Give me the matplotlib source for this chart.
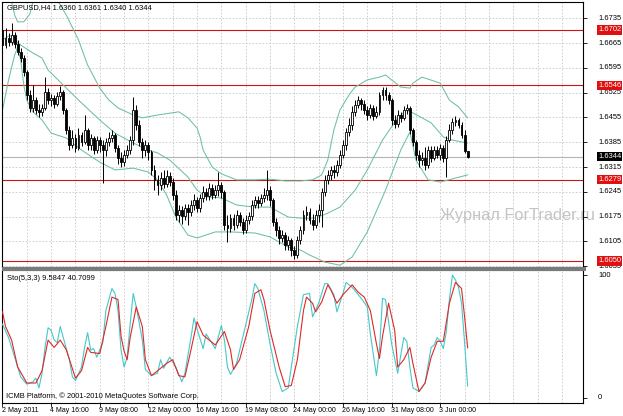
import matplotlib
matplotlib.use("Agg")
import matplotlib.pyplot as plt
from matplotlib.patches import Rectangle
import numpy as np

# GBPUSD H4, 2 May - 3 Jun 2011
first_open = 1.6702
closes = [
    1.6660, 1.6679, 1.6668, 1.6688, 1.6663, 1.6640, 1.6623, 1.6584, 1.6519, 1.6482,
    1.6504, 1.6476, 1.6471, 1.6482, 1.6527, 1.6504, 1.6510, 1.6493, 1.6516, 1.6527,
    1.6476, 1.6420, 1.6377, 1.6397, 1.6369, 1.6406, 1.6386, 1.6420, 1.6377, 1.6397,
    1.6363, 1.6391, 1.6377, 1.6363, 1.6386, 1.6397, 1.6406, 1.6369, 1.6341, 1.6329,
    1.6349, 1.6363, 1.6391, 1.6476, 1.6434, 1.6386, 1.6363, 1.6377, 1.6358, 1.6307,
    1.6279, 1.6265, 1.6284, 1.6267, 1.6290, 1.6273, 1.6236, 1.6180, 1.6194, 1.6177,
    1.6200, 1.6188, 1.6208, 1.6222, 1.6200, 1.6228, 1.6245, 1.6233, 1.6256, 1.6236,
    1.6250, 1.6265, 1.6245, 1.6152, 1.6143, 1.6171, 1.6152, 1.6180, 1.6160, 1.6137,
    1.6166, 1.6177, 1.6208, 1.6222, 1.6214, 1.6228, 1.6236, 1.6250, 1.6222, 1.6160,
    1.6137, 1.6115, 1.6123, 1.6095, 1.6109, 1.6081, 1.6067, 1.6109, 1.6137, 1.6180,
    1.6188, 1.6166, 1.6152, 1.6180, 1.6194, 1.6245, 1.6279, 1.6293, 1.6307, 1.6301,
    1.6321, 1.6349, 1.6377, 1.6414, 1.6434, 1.6471, 1.6490, 1.6504, 1.6493, 1.6476,
    1.6462, 1.6482, 1.6459, 1.6471, 1.6519, 1.6533, 1.6519, 1.6504, 1.6448, 1.6437,
    1.6462, 1.6454, 1.6476, 1.6482, 1.6420, 1.6386, 1.6349, 1.6335, 1.6341, 1.6321,
    1.6363, 1.6341, 1.6363, 1.6349, 1.6369, 1.6341, 1.6391, 1.6420, 1.6442, 1.6448,
    1.6434, 1.6406, 1.6360, 1.6344]
highs = [
    1.6730, 1.6708, 1.6694, 1.6722, 1.6696, 1.6674, 1.6651, 1.6631, 1.6589, 1.6533,
    1.6547, 1.6513, 1.6493, 1.6493, 1.6569, 1.6538, 1.6521, 1.6519, 1.6527, 1.6544,
    1.6533, 1.6482, 1.6431, 1.6420, 1.6408, 1.6425, 1.6414, 1.6462, 1.6425, 1.6408,
    1.6403, 1.6403, 1.6400, 1.6391, 1.6397, 1.6414, 1.6420, 1.6411, 1.6377, 1.6358,
    1.6363, 1.6377, 1.6403, 1.6513, 1.6490, 1.6448, 1.6397, 1.6391, 1.6386, 1.6363,
    1.6321, 1.6293, 1.6301, 1.6307, 1.6307, 1.6301, 1.6284, 1.6250, 1.6208, 1.6205,
    1.6211, 1.6211, 1.6222, 1.6239, 1.6231, 1.6239, 1.6262, 1.6256, 1.6270, 1.6267,
    1.6265, 1.6301, 1.6273, 1.6250, 1.6180, 1.6183, 1.6183, 1.6194, 1.6188, 1.6171,
    1.6180, 1.6188, 1.6222, 1.6233, 1.6233, 1.6239, 1.6256, 1.6307, 1.6262, 1.6228,
    1.6171, 1.6149, 1.6137, 1.6132, 1.6120, 1.6115, 1.6092, 1.6120, 1.6149, 1.6194,
    1.6205, 1.6200, 1.6183, 1.6194, 1.6211, 1.6256, 1.6293, 1.6307, 1.6318, 1.6321,
    1.6335, 1.6363, 1.6391, 1.6425, 1.6454, 1.6487, 1.6504, 1.6516, 1.6510, 1.6504,
    1.6487, 1.6493, 1.6490, 1.6487, 1.6527, 1.6541, 1.6541, 1.6527, 1.6510, 1.6462,
    1.6476, 1.6471, 1.6487, 1.6493, 1.6487, 1.6425, 1.6391, 1.6363, 1.6358, 1.6372,
    1.6375, 1.6375, 1.6375, 1.6375, 1.6380, 1.6377, 1.6403, 1.6437, 1.6454, 1.6459,
    1.6454, 1.6442, 1.6420, 1.6361]
lows = [
    1.6646, 1.6651, 1.6657, 1.6660, 1.6651, 1.6631, 1.6612, 1.6572, 1.6504, 1.6471,
    1.6471, 1.6465, 1.6457, 1.6459, 1.6476, 1.6493, 1.6487, 1.6482, 1.6487, 1.6504,
    1.6465, 1.6408, 1.6363, 1.6369, 1.6358, 1.6363, 1.6375, 1.6380, 1.6363, 1.6363,
    1.6352, 1.6355, 1.6358, 1.6270, 1.6346, 1.6375, 1.6386, 1.6358, 1.6324, 1.6315,
    1.6318, 1.6341, 1.6352, 1.6377, 1.6420, 1.6375, 1.6341, 1.6346, 1.6335, 1.6293,
    1.6250, 1.6236, 1.6250, 1.6256, 1.6259, 1.6262, 1.6222, 1.6166, 1.6160, 1.6154,
    1.6166, 1.6152, 1.6177, 1.6194, 1.6188, 1.6188, 1.6217, 1.6222, 1.6222, 1.6225,
    1.6228, 1.6233, 1.6228, 1.6137, 1.6103, 1.6132, 1.6137, 1.6143, 1.6149, 1.6126,
    1.6129, 1.6154, 1.6166, 1.6200, 1.6200, 1.6205, 1.6217, 1.6222, 1.6205, 1.6149,
    1.6120, 1.6098, 1.6103, 1.6081, 1.6081, 1.6064, 1.6056, 1.6058, 1.6098, 1.6126,
    1.6166, 1.6154, 1.6137, 1.6143, 1.6160, 1.6146, 1.6233, 1.6267, 1.6279, 1.6284,
    1.6290, 1.6312, 1.6341, 1.6363, 1.6403, 1.6420, 1.6459, 1.6482, 1.6476, 1.6465,
    1.6448, 1.6454, 1.6448, 1.6454, 1.6462, 1.6504, 1.6504, 1.6493, 1.6434, 1.6425,
    1.6428, 1.6442, 1.6448, 1.6465, 1.6408, 1.6375, 1.6335, 1.6315, 1.6321, 1.6307,
    1.6312, 1.6329, 1.6335, 1.6341, 1.6335, 1.6329, 1.6287, 1.6386, 1.6408, 1.6431,
    1.6425, 1.6397, 1.6355, 1.6340]

# Bollinger bands (20, 2) read at some bars
bb_up_bars = [0, 3, 4, 5, 7, 9, 10, 12, 15, 18, 21, 25, 28, 32, 35, 38, 43, 46, 51, 58,
              61, 64, 65, 66, 69, 72, 77, 83, 88, 93, 98, 102, 105, 107, 109, 111, 114, 116, 120, 124,
              126, 128, 131, 134, 135, 138, 144, 147, 150, 153]
bb_up = [1.6843, 1.6781, 1.6744, 1.6725, 1.6725, 1.6747, 1.6781, 1.6829, 1.6829, 1.6787,
         1.6744, 1.6674, 1.6603, 1.6538, 1.6504, 1.6482, 1.6462, 1.6454, 1.6462, 1.6471,
         1.6454, 1.6425, 1.6400, 1.6363, 1.6315, 1.6296, 1.6279, 1.6279, 1.6281, 1.6276,
         1.6276, 1.6279, 1.6293, 1.6335, 1.6420, 1.6476, 1.6519, 1.6541, 1.6561, 1.6569,
         1.6575, 1.6561, 1.6541, 1.6538, 1.6552, 1.6569, 1.6552, 1.6504, 1.6485, 1.6454]
bb_mid_bars = [0, 2, 4, 5, 10, 13, 15, 21, 26, 32, 37, 43, 48, 51, 55, 61, 64, 67, 72, 77,
               83, 88, 94, 98, 103, 107, 111, 116, 120, 125, 130, 133, 135, 141, 145, 148, 153]
bb_mid = [1.6674, 1.6685, 1.6685, 1.6665, 1.6637, 1.6623, 1.6589, 1.6538, 1.6496, 1.6448,
          1.6411, 1.6383, 1.6363, 1.6355, 1.6335, 1.6287, 1.6250, 1.6231, 1.6228, 1.6208,
          1.6202, 1.6202, 1.6174, 1.6171, 1.6171, 1.6185, 1.6202, 1.6250, 1.6307, 1.6391,
          1.6454, 1.6476, 1.6468, 1.6440, 1.6400, 1.6391, 1.6383]
bb_low_bars = [0, 1, 2, 3, 4, 5, 6, 7, 8, 10, 13, 16, 21, 26, 32, 37, 43, 48, 51, 54,
               57, 61, 64, 70, 75, 83, 88, 94, 98, 101, 106, 111, 115, 120, 126, 131, 134, 136, 140, 144,
               149, 153]
bb_low = [1.6476, 1.6519, 1.6561, 1.6597, 1.6631, 1.6654, 1.6617, 1.6547, 1.6504, 1.6471,
          1.6448, 1.6411, 1.6397, 1.6363, 1.6329, 1.6307, 1.6312, 1.6301, 1.6279, 1.6236,
          1.6174, 1.6123, 1.6115, 1.6132, 1.6132, 1.6129, 1.6118, 1.6089, 1.6081, 1.6067,
          1.6047, 1.6038, 1.6061, 1.6132, 1.6250, 1.6363, 1.6414, 1.6335, 1.6279, 1.6273,
          1.6284, 1.6293]

# Stochastic (5,3,3): main and signal lines
sto_k_bars = [0, 2, 4, 6, 8, 10, 11, 12, 13, 14, 15, 16, 17, 18, 19, 21, 22, 23, 24, 26,
              27, 28, 29, 30, 31, 33, 34, 36, 37, 38, 39, 40, 41, 42, 43, 44, 46, 47, 49, 51,
              52, 53, 55, 57, 59, 60, 62, 63, 64, 66, 67, 70, 72, 73, 74, 75, 77, 79, 82, 83,
              84, 86, 88, 90, 92, 94, 95, 97, 99, 101, 102, 104, 106, 107, 109, 110, 112, 113, 115, 118,
              120, 121, 123, 124, 125, 126, 128, 130, 132, 133, 134, 135, 137, 139, 141, 142, 143, 144, 145, 146,
              147, 148, 149, 150, 151, 152, 153]
sto_k = [60, 49, 33, 17, 11, 13, 16, 8, 20, 41, 57, 55, 47, 45, 58, 40, 31, 17, 14, 25,
         41, 53, 39, 40, 33, 45, 71, 89, 85, 71, 39, 25, 33, 60, 85, 74, 47, 23, 18, 20,
         31, 24, 33, 25, 13, 20, 49, 65, 56, 40, 52, 40, 59, 47, 25, 19, 28, 49, 80, 93,
         89, 71, 44, 20, 5, 8, 25, 58, 84, 85, 66, 77, 93, 93, 84, 70, 85, 94, 90, 81,
         74, 52, 18, 39, 81, 80, 44, 20, 49, 46, 25, 8, 5, 12, 41, 43, 49, 46, 40, 54,
         80, 100, 96, 90, 77, 45, 9.5847]
sto_d_bars = [0, 1, 3, 5, 8, 11, 13, 15, 17, 19, 21, 24, 26, 28, 29, 32, 34, 36, 38, 39,
              40, 41, 42, 44, 46, 47, 49, 51, 54, 56, 58, 60, 62, 64, 66, 68, 70, 73, 75, 76,
              78, 81, 83, 85, 86, 88, 91, 93, 95, 97, 99, 100, 102, 103, 105, 107, 108, 110, 112, 115,
              117, 119, 121, 123, 124, 125, 127, 129, 130, 132, 134, 135, 137, 139, 141, 143, 145, 147, 149, 151,
              152, 153]
sto_d = [70, 58, 47, 25, 12, 12, 22, 47, 41, 47, 39, 16, 22, 41, 37, 36, 58, 82, 80, 50,
         38, 31, 49, 74, 58, 31, 18, 22, 28, 31, 18, 17, 39, 62, 51, 47, 43, 54, 39, 23,
         31, 58, 85, 88, 80, 55, 25, 9, 10, 31, 71, 82, 77, 70, 78, 92, 88, 77, 84, 92,
         86, 82, 71, 44, 32, 50, 77, 55, 25, 31, 41, 28, 5, 12, 33, 46, 46, 77, 94, 89,
         66, 40.7099]

levels = [1.6702, 1.6546, 1.6279, 1.6050]
last_price = 1.6344
price_ticks = [1.6735, 1.6665, 1.6595, 1.6525, 1.6455, 1.6385, 1.6315, 1.6245, 1.6175, 1.6105, 1.6035]
date_bars = [0, 16, 32, 48, 64, 80, 96, 112, 128, 144]
date_labels = ['2 May 2011', '4 May 16:00', '9 May 08:00', '12 May 00:00', '16 May 16:00',
               '19 May 08:00', '24 May 00:00', '26 May 16:00', '31 May 08:00', '3 Jun 00:00']

FONT = 'Liberation Sans'
FS = 5.4
FS_DATE = 5.0
BAND = '#6cc0a2'
W, H = 623, 416

fig = plt.figure(figsize=(W / 100, H / 100), dpi=100)
fig.patch.set_facecolor('white')


def box(left, top, right, bottom):
    return [left / W, 1 - bottom / H, (right - left) / W, (bottom - top) / H]


ax = fig.add_axes(box(2, 2, 583, 267))
ax2 = fig.add_axes(box(2, 270, 583, 403))
xlim = (-0.16, 190.95)
lab_x = (598 - 2) / 581   # price scale text, axes fraction

for a in (ax, ax2):
    a.set_xlim(*xlim)
    for s in a.spines.values():
        s.set_color('black')
        s.set_linewidth(0.8)
    for g in range(8, 191, 8):
        a.axvline(g, color='#c8c8c8', lw=0.6, ls=(0, (2, 2)), zorder=0)

# --- price panel
ax.set_ylim(1.6033, 1.6781)
for p in price_ticks:
    ax.axhline(p, color='#c8c8c8', lw=0.6, ls=(0, (2, 2)), zorder=0)
    ax.text(lab_x, p, f'{p:.4f}', transform=ax.get_yaxis_transform(), fontsize=FS,
            family=FONT, va='center', ha='left', clip_on=False, zorder=5)
ax.yaxis.tick_right()
ax.set_yticks(price_ticks)
ax.tick_params(axis='y', length=3, width=0.6, labelright=False, labelleft=False)
ax.set_xticks([])

ax.axhline(last_price, color='#b4b4b4', lw=0.8, zorder=1)
for lv in levels:
    ax.axhline(lv, color='#cc1414', lw=0.8, zorder=2)
    ax.text(lab_x, lv, f'{lv:.4f}', transform=ax.get_yaxis_transform(), fontsize=FS,
            family=FONT, va='center', ha='left', color='white', clip_on=False, zorder=6,
            bbox=dict(boxstyle='square,pad=0.15', fc='#e01010', ec='none'))
ax.text(lab_x, last_price, f'{last_price:.4f}', transform=ax.get_yaxis_transform(),
        fontsize=FS, family=FONT, va='center', ha='left', color='white', clip_on=False,
        zorder=6, bbox=dict(boxstyle='square,pad=0.15', fc='black', ec='none'))

ax.plot(bb_up_bars, bb_up, color=BAND, lw=0.75, zorder=2)
ax.plot(bb_mid_bars, bb_mid, color=BAND, lw=0.75, zorder=2)
ax.plot(bb_low_bars, bb_low, color=BAND, lw=0.75, zorder=2)

o = np.array([first_open] + closes[:-1])
c = np.array(closes)
h = np.maximum(np.array(highs), np.maximum(o, c))
l = np.minimum(np.array(lows), np.minimum(o, c))
idx = np.arange(len(c))
up = c >= o
ax.vlines(idx, l, h, color='black', lw=0.7, zorder=3)
ax.bar(idx[up], (c - o)[up], bottom=o[up], width=0.62, color='white',
       edgecolor='black', lw=0.6, zorder=4)
ax.bar(idx[~up], (o - c)[~up], bottom=c[~up], width=0.62, color='black',
       edgecolor='black', lw=0.6, zorder=4)

ax.text(5 / 581, (267 - 8) / 265, 'GBPUSD,H4 1.6360 1.6361 1.6340 1.6344',
        transform=ax.transAxes, fontsize=FS, family=FONT, va='center', ha='left')
ax.text((440 - 2) / 581, (267 - 215) / 265, 'Журнал ForTrader.ru', transform=ax.transAxes,
        fontsize=11.8, family=FONT, color='#c4c4c4', va='center', ha='left',
        clip_on=False, zorder=1)

# --- stochastic panel
ax2.set_ylim(-4.3, 104.1)
ax2.plot(sto_k_bars, sto_k, color='#45c8c8', lw=0.8, zorder=3)
ax2.plot(sto_d_bars, sto_d, color='#e02828', lw=0.8, zorder=4)
ax2.yaxis.tick_right()
ax2.set_yticks([0, 100])
ax2.tick_params(axis='y', length=3, width=0.6, labelright=False, labelleft=False)
for v in (0, 100):
    ax2.text(lab_x, v, str(v), transform=ax2.get_yaxis_transform(), fontsize=FS,
             family=FONT, va='center', ha='left', clip_on=False)
ax2.set_xticks(date_bars)
ax2.tick_params(axis='x', length=3, width=0.6, labelbottom=False)
for b, t in zip(date_bars, date_labels):
    ax2.text(b - 0.3, -0.053, t, transform=ax2.get_xaxis_transform(), fontsize=FS_DATE,
             family=FONT, va='center', ha='left', clip_on=False)
ax2.text(5 / 581, (403 - 278) / 133, 'Sto(5,3,3) 9.5847 40.7099', transform=ax2.transAxes,
         fontsize=FS, family=FONT, va='center', ha='left')
ax2.text(4 / 581, (403 - 396) / 133, 'ICMB Platform, © 2001-2010 MetaQuotes Software Corp.',
         transform=ax2.transAxes, fontsize=FS, family=FONT, va='center', ha='left')

# grey bar between the two windows
fig.add_artist(Rectangle((2 / W, 1 - 270.5 / H), 584 / W, 3.5 / H,
                         transform=fig.transFigure, color='#7a7a7a', lw=0))

fig.savefig('out.png', dpi=100, facecolor='white')
